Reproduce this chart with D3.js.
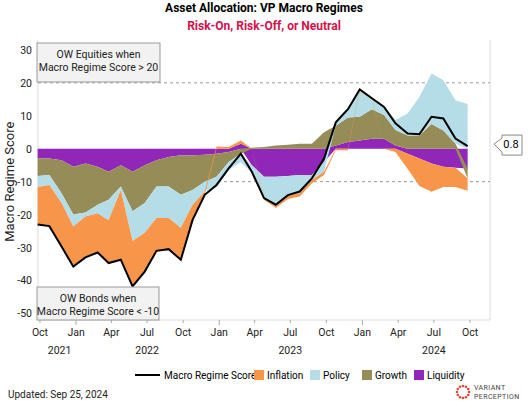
<!DOCTYPE html>
<html><head><meta charset="utf-8">
<script src="https://cdn.jsdelivr.net/npm/d3@7"></script>
<style>body{margin:0;background:#fff;font-family:Roboto,sans-serif}</style>
</head><body><svg id="c" width="528" height="409"></svg>
<script>
var dates = ['2021-09-25','2021-10-25','2021-11-25','2021-12-25','2022-01-25','2022-02-25','2022-03-25','2022-04-25','2022-05-25','2022-06-25','2022-07-25','2022-08-25','2022-09-25','2022-10-25','2022-11-25','2022-12-25','2023-01-25','2023-02-25','2023-03-25','2023-04-25','2023-05-25','2023-06-25','2023-07-25','2023-08-25','2023-09-25','2023-10-25','2023-11-25','2023-12-25','2024-01-25','2024-02-25','2024-03-25','2024-04-25','2024-05-25','2024-06-25','2024-07-25','2024-08-25','2024-09-25'];
var liquidity = [-3,-3,-3.5,-5.5,-4.5,-5.5,-7,-5,-7,-5,-3.5,-2.5,-2,-2,-1.8,-1.5,-1,1.5,-5,-8.5,-8.5,-8.3,-8,-8,-4,1,2,2.5,3,3,1,-1.5,-3,-4.5,-5.5,-5.8,-6];
var growth = [-5.3,-5,-10,-14.5,-14.9,-11.5,-8.5,-6.5,-12,-11.5,-8,-9,-12,-10.5,-8.2,-7,-3,-1.5,0.3,0.5,1,1.2,1.5,1.5,5,6,7.5,7.2,9,7.2,4.7,4,4,7.5,5.5,1.5,-3];
var policy = [-3.3,-3,-3,-3.6,-1.2,-2.6,-6.2,-1,-9,-9,-9.5,-9.5,-10,-4.5,-3,-3.2,-2.5,-2.5,-2.3,-6.5,-9,-6,-5.5,-1.5,-3,1.5,3,7.8,3,2.5,3,6.7,11.7,15.3,15.3,13.2,13.6];
var inflation = [-11.4,-12.5,-13.2,-12.2,-12.4,-11.9,-13,-21.2,-13.8,-11.8,-10,-9.5,-9.7,-4.6,-1,0.7,0.5,1,0,-0.5,-0.5,-1,-1,-1,-1,-0.5,-0.5,0.5,0.3,0,-1,-4.6,-8.3,-8.6,-6.1,-5.8,-3.8];
var keys = ['liquidity','growth','policy','inflation'];
var names = {liquidity:'Liquidity',growth:'Growth',policy:'Policy',inflation:'Inflation'};
var colors = {liquidity:'#9127b8',growth:'#958c57',policy:'#b5dde7',inflation:'#f7964a'};
var yTicks = [30,20,10,0,-10,-20,-30,-40,-50];
var yearLabels = [['2021','2021-11-20'],['2022','2022-07-01'],['2023','2023-07-01'],['2024','2024-07-01']];

var parse = d3.timeParse('%Y-%m-%d');
var rows = dates.map(function(d,i){
  return {date:parse(d),liquidity:liquidity[i],growth:growth[i],policy:policy[i],inflation:inflation[i],
    score:liquidity[i]+growth[i]+policy[i]+inflation[i]};
});

var svg = d3.select('#c');
var L = 38, R = 490, T = 40, B = 320;
var x = d3.scaleTime().domain([parse('2021-09-26'),parse('2024-11-21')]).range([L,R]);
var y = d3.scaleLinear().domain([-52,33]).range([B,T]);

svg.append('text').attr('x',264).attr('y',12).attr('text-anchor','middle')
  .attr('font-size',12).attr('font-weight','bold').text('Asset Allocation: VP Macro Regimes');
svg.append('text').attr('x',264).attr('y',30).attr('text-anchor','middle')
  .attr('font-size',12).attr('font-weight','bold').attr('fill','#d4104a').text('Risk-On, Risk-Off, or Neutral');

// frame
svg.append('line').attr('x1',L).attr('x2',L).attr('y1',T).attr('y2',B).attr('stroke','#ddd');
svg.append('line').attr('x1',R).attr('x2',R).attr('y1',T).attr('y2',B).attr('stroke','#ddd');
svg.append('line').attr('x1',L).attr('x2',R).attr('y1',B).attr('y2',B).attr('stroke','#ddd');

[20,-10].forEach(function(v){
  svg.append('line').attr('x1',L).attr('x2',R).attr('y1',y(v)).attr('y2',y(v))
    .attr('stroke','#999').attr('stroke-dasharray','3,3');
});

var stack = d3.stack().keys(keys).offset(d3.stackOffsetDiverging)(rows);
var area = d3.area().x(function(d){return x(d.data.date);}).y0(function(d){return y(d[0]);}).y1(function(d){return y(d[1]);});
svg.append('g').selectAll('path').data(stack).enter().append('path')
  .attr('d',area).attr('fill',function(d){return colors[d.key];});

svg.append('path').datum(rows).attr('fill','none').attr('stroke','#000').attr('stroke-width',2)
  .attr('d',d3.line().x(function(d){return x(d.date);}).y(function(d){return y(d.score);}));

// y axis
yTicks.forEach(function(v){
  svg.append('text').attr('x',L-6).attr('y',y(v)+4).attr('text-anchor','end').attr('font-size',10.5).attr('fill','#222').text(v);
});
svg.append('text').attr('transform','translate(14,'+(y(-10))+') rotate(-90)').attr('text-anchor','middle')
  .attr('font-size',13).attr('fill','#222').text('Macro Regime Score');

// x axis
var xt = d3.timeMonth.every(3).range(parse('2021-10-01'),parse('2024-10-02'));
xt.forEach(function(d){
  var jan = d.getMonth()===0;
  svg.append('line').attr('x1',x(d)).attr('x2',x(d)).attr('y1',B).attr('y2',B+(jan?5:3)).attr('stroke','#aaa');
  svg.append('text').attr('x',x(d)).attr('y',B+16).attr('text-anchor','middle').attr('font-size',10.5).attr('fill','#222').text(d3.timeFormat('%b')(d));
});
yearLabels.forEach(function(p){
  svg.append('text').attr('x',x(parse(p[1]))).attr('y',B+34).attr('text-anchor','middle').attr('font-size',10.5).attr('fill','#222').text(p[0]);
});

// annotation boxes
function box(x0,y0,w,h,lines){
  svg.append('rect').attr('x',x0).attr('y',y0).attr('width',w).attr('height',h).attr('fill','#f2f2f2').attr('stroke','#999');
  lines.forEach(function(t,i){
    svg.append('text').attr('x',x0+w/2).attr('y',y0+15+i*13).attr('text-anchor','middle').attr('font-size',10.5).attr('fill','#222').text(t);
  });
}
box(37,43,123,39,['OW Equities when','Macro Regime Score > 20']);
box(37,287,122,33,['OW Bonds when','Macro Regime Score < -10']);

// last value callout
var last = rows[rows.length-1].score, ly = y(last);
svg.append('path').attr('d','M'+(R+4)+','+(ly-2)+' l8,-6 v-3 h20 v20 h-20 v-3 z')
  .attr('fill','#fff').attr('stroke','#888');
svg.append('text').attr('x',511).attr('y',ly+2).attr('text-anchor','middle').attr('font-size',11).text(d3.format('.1f')(last));

// legend
var lg = svg.append('g').attr('transform','translate(0,375)');
lg.append('line').attr('x1',135).attr('x2',160).attr('y1',0).attr('y2',0).attr('stroke','#000').attr('stroke-width',2);
lg.append('text').attr('x',164).attr('y',4).attr('font-size',10).text('Macro Regime Score');
var lx = [254,310,362,414];
['inflation','policy','growth','liquidity'].forEach(function(k,i){
  lg.append('rect').attr('x',lx[i]).attr('y',-5).attr('width',10).attr('height',10).attr('fill',colors[k]);
  lg.append('text').attr('x',lx[i]+13).attr('y',4).attr('font-size',10).text(names[k]);
});

svg.append('text').attr('x',8).attr('y',398).attr('font-size',10).attr('fill','#222').text('Updated: Sep 25, 2024');
// logo
var lgo = svg.append('g').attr('transform','translate(463,392)');
d3.range(12).forEach(function(i){
  var a = i/12*Math.PI*2;
  lgo.append('circle').attr('cx',Math.cos(a)*6).attr('cy',Math.sin(a)*6).attr('r',1.3).attr('fill','#e0443a');
});
lgo.append('text').attr('x',11).attr('y',-2).attr('font-size',7).attr('fill','#444').attr('letter-spacing',0.4).text('VARIANT');
lgo.append('text').attr('x',11).attr('y',7).attr('font-size',7).attr('fill','#444').attr('letter-spacing',0.4).text('PERCEPTION');
</script></body></html>
